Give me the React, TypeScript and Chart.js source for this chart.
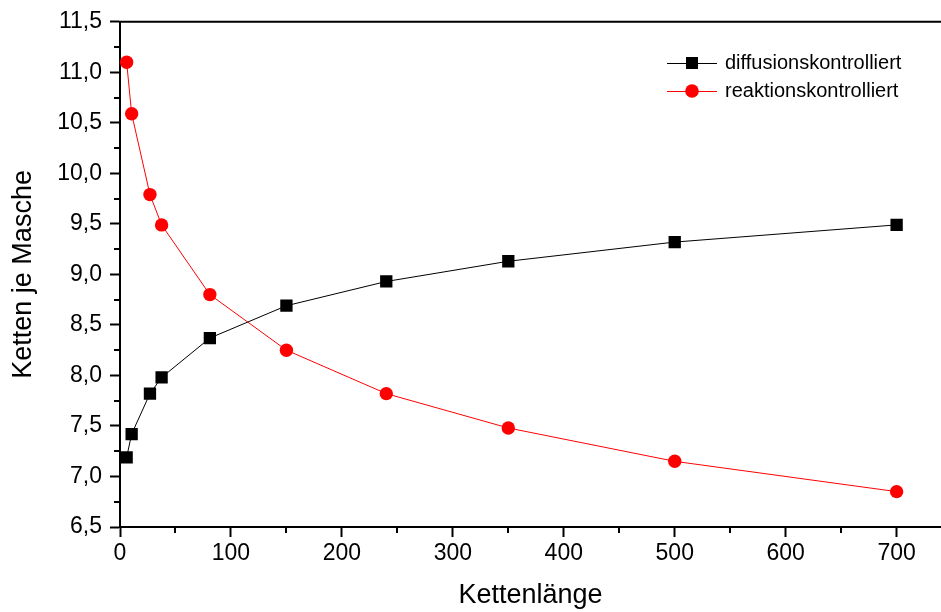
import { useEffect, useRef } from 'react';
import { Chart, registerables } from 'chart.js';

Chart.register(...registerables);

const chainLengths = [6, 10.5, 27, 37.5, 81, 150, 240, 350, 500, 700];
const diffusionControlled = [7.19, 7.42, 7.82, 7.98, 8.37, 8.69, 8.93, 9.13, 9.32, 9.49];
const reactionControlled = [11.1, 10.59, 9.79, 9.49, 8.8, 8.25, 7.82, 7.48, 7.15, 6.85];
const seriesLabels = ['diffusionskontrolliert', 'reaktionskontrolliert'];
const xTitle = 'Kettenlänge';
const yTitle = 'Ketten je Masche';

const FONT = "'Liberation Sans', Arial, sans-serif";

const framePlugin = {
  id: 'frameAndMinor',
  afterDraw(chart: any) {
    const { ctx, chartArea, scales } = chart;
    const x = scales.x;
    const y = scales.y;
    ctx.save();
    ctx.strokeStyle = '#000';
    ctx.lineWidth = 2;
    // top spine
    ctx.beginPath();
    ctx.moveTo(chartArea.left - 1, chartArea.top);
    ctx.lineTo(chart.width, chartArea.top);
    ctx.stroke();
    // minor ticks y
    for (let v = 6.75; v < 11.5; v += 0.5) {
      const py = Math.round(y.getPixelForValue(v));
      ctx.beginPath();
      ctx.moveTo(chartArea.left - 6, py);
      ctx.lineTo(chartArea.left, py);
      ctx.stroke();
    }
    // minor ticks x
    for (let v = 50; v < x.max; v += 100) {
      const px = Math.round(x.getPixelForValue(v));
      ctx.beginPath();
      ctx.moveTo(px, chartArea.bottom);
      ctx.lineTo(px, chartArea.bottom + 6);
      ctx.stroke();
    }
    ctx.restore();
  },
};

const legendPlugin = {
  id: 'lineLegend',
  afterDraw(chart: any) {
    const { ctx } = chart;
    const rows = [63, 91];
    ctx.save();
    chart.data.datasets.forEach((ds: any, i: number) => {
      const yy = rows[i];
      ctx.strokeStyle = ds.borderColor;
      ctx.lineWidth = 1;
      ctx.beginPath();
      ctx.moveTo(667, yy + 0.5);
      ctx.lineTo(717, yy + 0.5);
      ctx.stroke();
      ctx.fillStyle = ds.pointBackgroundColor;
      if (ds.pointStyle === 'rect') {
        ctx.fillRect(686, yy - 6, 12, 12);
      } else {
        ctx.beginPath();
        ctx.arc(692, yy, 6.8, 0, Math.PI * 2);
        ctx.fill();
      }
      ctx.fillStyle = '#000';
      ctx.font = `20px ${FONT}`;
      ctx.textBaseline = 'middle';
      ctx.textAlign = 'left';
      ctx.fillText(ds.label, 725, yy);
    });
    ctx.restore();
  },
};

export default function App() {
  const ref = useRef<HTMLCanvasElement | null>(null);

  useEffect(() => {
    if (!ref.current) return;
    const chart = new Chart(ref.current, {
      type: 'line',
      data: {
        datasets: [
          {
            label: seriesLabels[0],
            data: chainLengths.map((x, i) => ({ x, y: diffusionControlled[i] })),
            borderColor: '#000000',
            backgroundColor: '#000000',
            pointBackgroundColor: '#000000',
            pointBorderWidth: 0,
            pointStyle: 'rect',
            pointRadius: 8.7,
            borderWidth: 1,
            tension: 0,
          },
          {
            label: seriesLabels[1],
            data: chainLengths.map((x, i) => ({ x, y: reactionControlled[i] })),
            borderColor: '#FF0000',
            backgroundColor: '#FF0000',
            pointBackgroundColor: '#FF0000',
            pointBorderWidth: 0,
            pointStyle: 'circle',
            pointRadius: 6.7,
            borderWidth: 1,
            tension: 0,
          },
        ],
      },
      options: {
        animation: false,
        responsive: false,
        maintainAspectRatio: false,
        layout: { autoPadding: false, padding: { top: 20, left: 0, right: 0, bottom: 0 } },
        plugins: {
          legend: { display: false },
          tooltip: { enabled: false },
        },
        scales: {
          x: {
            type: 'linear',
            min: 0,
            max: 740,
            afterFit: (s: any) => {
              s.height = 85;
            },
            ticks: {
              stepSize: 100,
              includeBounds: false,
              color: '#000',
              font: { family: FONT, size: 23 },
              padding: 3,
              maxRotation: 0,
            },
            grid: {
              display: true,
              drawOnChartArea: false,
              drawTicks: true,
              tickLength: 10,
              tickWidth: 2,
              tickColor: '#000',
            },
            border: { display: true, color: '#000', width: 2 },
            title: {
              display: true,
              text: xTitle,
              color: '#000',
              font: { family: FONT, size: 27 },
              padding: { top: 0, bottom: 0 },
            },
          },
          y: {
            type: 'linear',
            min: 6.5,
            max: 11.5,
            afterFit: (s: any) => {
              s.width = 120;
            },
            ticks: {
              stepSize: 0.5,
              color: '#000',
              font: { family: FONT, size: 23 },
              padding: 8,
              callback: (v: any) => Number(v).toFixed(1).replace('.', ','),
            },
            grid: {
              display: true,
              drawOnChartArea: false,
              drawTicks: true,
              tickLength: 10,
              tickWidth: 2,
              tickColor: '#000',
            },
            border: { display: true, color: '#000', width: 2 },
            title: {
              display: true,
              text: yTitle,
              color: '#000',
              font: { family: FONT, size: 27 },
              padding: { top: 7, bottom: 0 },
            },
          },
        },
      },
      plugins: [framePlugin, legendPlugin],
    } as any);
    return () => chart.destroy();
  }, []);

  return (
    <div style={{ position: 'fixed', left: 0, top: 0, width: 941, height: 612, background: '#fff' }}>
      <canvas ref={ref} width={941} height={612} style={{ width: 941, height: 612, display: 'block' }} />
    </div>
  );
}
